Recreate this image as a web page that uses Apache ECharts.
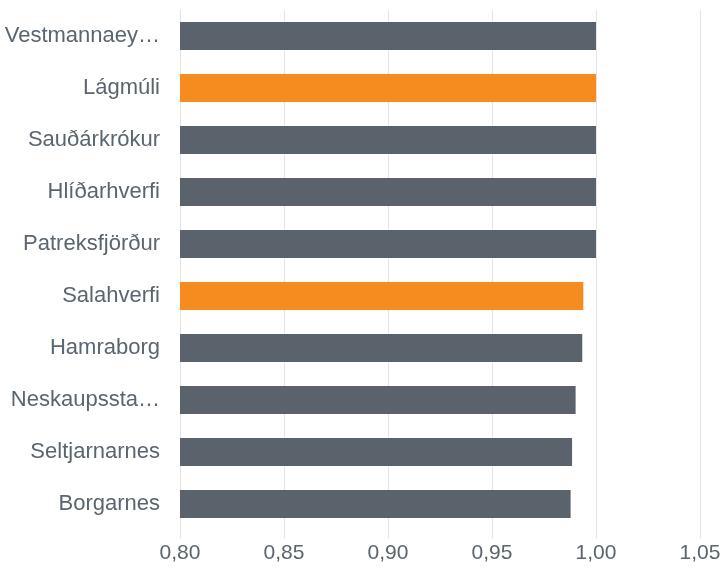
<!DOCTYPE html>
<html>
<head>
<meta charset="utf-8">
<script src="https://cdn.jsdelivr.net/npm/echarts@6/dist/echarts.min.js"></script>
<style>
  html, body { margin: 0; padding: 0; background: #fff; }
  #main { width: 726px; height: 571px; }
</style>
</head>
<body>
<div id="main"></div>
<script>
// flokkar ofan frá og niður
var categories = ['Vestmannaeyjar', 'Lágmúli', 'Sauðárkrókur', 'Hlíðarhverfi', 'Patreksfjörður',
                  'Salahverfi', 'Hamraborg', 'Neskaupsstaður', 'Seltjarnarnes', 'Borgarnes'];
var values = [1.000, 1.000, 1.000, 1.000, 1.000, 0.9939, 0.9934, 0.9902, 0.9885, 0.9878];
var highlighted = ['Lágmúli', 'Salahverfi'];
var xTicks = [0.80, 0.85, 0.90, 0.95, 1.00, 1.05];

var grey = '#5a636c';
var orange = '#f68c1f';

var chart = echarts.init(document.getElementById('main'));
var option = {
    animation: false,
    grid: { left: 180, right: 26, top: 10, bottom: 41 },
    xAxis: {
        type: 'value',
        min: xTicks[0],
        max: xTicks[xTicks.length - 1],
        interval: 0.05,
        axisLine: { show: false },
        axisTick: { show: true, length: 8, lineStyle: { color: '#e3e3e3' } },
        splitLine: { show: true, lineStyle: { color: '#e3e3e3', width: 1 } },
        axisLabel: {
            color: '#5b6570',
            fontFamily: 'Liberation Sans, Arial, sans-serif',
            fontSize: 21,
            margin: 13,
            formatter: function (v) { return v.toFixed(2).replace('.', ','); }
        }
    },
    yAxis: {
        type: 'category',
        inverse: true,
        data: categories,
        axisLine: { show: true, lineStyle: { color: '#e3e3e3' } },
        axisTick: { show: false },
        axisLabel: {
            color: '#5b6570',
            fontFamily: 'Liberation Sans, Arial, sans-serif',
            fontSize: 22,
            margin: 20,
            width: 157,
            overflow: 'truncate',
            ellipsis: '…'
        }
    },
    series: [{
        type: 'bar',
        barWidth: 28,
        data: values.map(function (v, i) {
            return {
                value: v,
                itemStyle: { color: highlighted.indexOf(categories[i]) >= 0 ? orange : grey }
            };
        })
    }]
};
chart.setOption(option);
</script>
</body>
</html>
